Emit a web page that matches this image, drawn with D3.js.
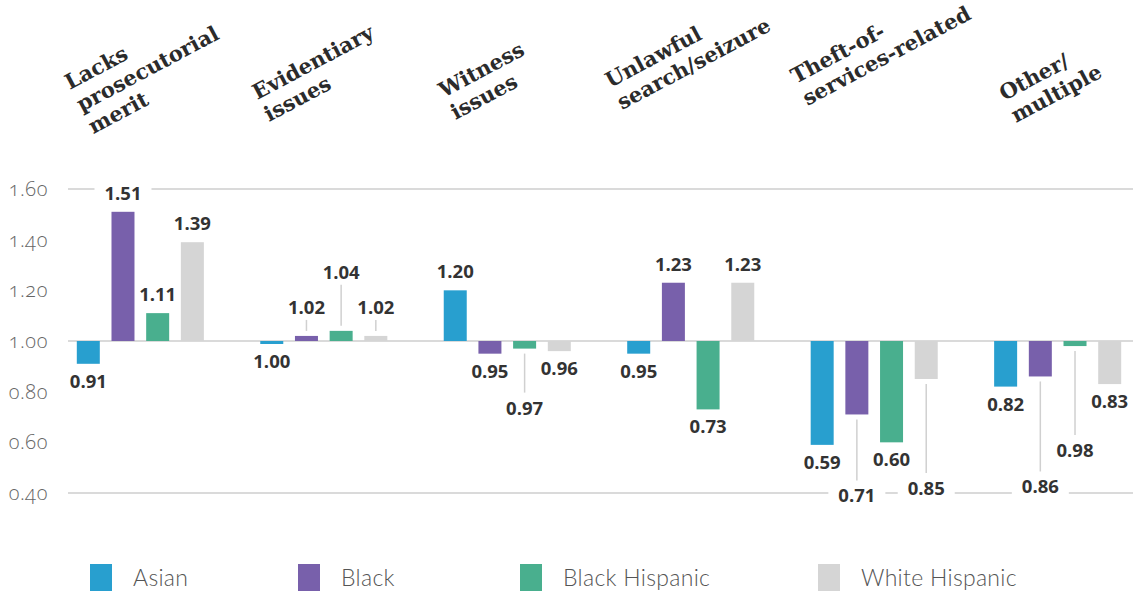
<!DOCTYPE html>
<html>
<head>
<meta charset="utf-8">
<script src="https://cdn.jsdelivr.net/npm/d3@7"></script>
<style>
  html, body { margin: 0; padding: 0; background: #fff; }
  svg { display: block; }
</style>
</head>
<body>
<svg id="chart" width="1133" height="593"></svg>
<script>
// ---- data ----
const categories = ["Lacks prosecutorial merit", "Evidentiary issues", "Witness issues",
                    "Unlawful search/seizure", "Theft-of-services-related", "Other/multiple"];
const headerLines = [["Lacks", "prosecutorial", "merit"], ["Evidentiary", "issues"], ["Witness", "issues"],
                     ["Unlawful", "search/seizure"], ["Theft-of-", "services-related"], ["Other/", "multiple"]];
const series = ["Asian", "Black", "Black Hispanic", "White Hispanic"];
const asian         = [0.91, 1.00, 1.20, 0.95, 0.59, 0.82];
const black         = [1.51, 1.02, 0.95, 1.23, 0.71, 0.86];
const blackHispanic = [1.11, 1.04, 0.97, 0.73, 0.60, 0.98];
const whiteHispanic = [1.39, 1.02, 0.96, 1.23, 0.85, 0.83];
const yTicks = [0.40, 0.60, 0.80, 1.00, 1.20, 1.40, 1.60];
const gridValues = [0.40, 1.00, 1.60];

// ---- layout (not data) ----
const colors = ["#289fcf", "#7860ab", "#49af8e", "#d5d5d5"];
const labelExtra = [[0,0,0,0],[0,10,40,10],[0,0,42,0],[0,0,0,0],[0,64,0,92],[0,93,87,0]];
const headerDX = [-7, -3, 0, -17, -15, 10];
const headerDY = [90, 100, 98, 88, 84, 101];
const legendX = [90, 298, 520, 818];

const seriesValues = [asian, black, blackHispanic, whiteHispanic];
const table = categories.map((c, i) => ({
  cat: c, i,
  vals: series.map((s, k) => ({ s, k, v: seriesValues[k][i], extra: labelExtra[i][k] }))
}));

const svg = d3.select("#chart");
const baseline = 1.0;

const y = d3.scaleLinear().domain([0.4, 1.6]).range([493, 189]);
const x0 = d3.scaleBand().domain(categories).range([68, 1130]).paddingInner(0.3075).paddingOuter(0.048);
const x1 = d3.scaleBand().domain(series).range([0, x0.bandwidth()]).paddingInner(0.337).paddingOuter(0);
const color = d3.scaleOrdinal().domain(series).range(colors);

// gridlines
svg.append("g").selectAll("line").data(gridValues).join("line")
  .attr("x1", 68).attr("x2", 1133)
  .attr("y1", d => y(d)).attr("y2", d => y(d))
  .attr("stroke", "#dadada").attr("stroke-width", 2);

// y axis
const yAxis = d3.axisLeft(y).tickValues(yTicks).tickFormat(d3.format(".2f")).tickSize(0).tickPadding(20);
const ga = svg.append("g").attr("transform", "translate(68,0)").call(yAxis);
ga.select(".domain").remove();
ga.selectAll("text")
  .attr("fill", "#666")
  .style("font-family", "'Open Sans', 'Noto Sans', sans-serif")
  .style("font-weight", "300")
  .style("font-size", "20px")
  .style("font-variant-numeric", "oldstyle-nums")
  .style("font-feature-settings", "'onum' 1")
  .style("letter-spacing", "0.6px");

const groups = svg.append("g").selectAll("g").data(table).join("g")
  .attr("transform", d => `translate(${x0(d.cat)},0)`);

function barTop(v) { return v >= baseline ? y(v) : y(baseline); }
function barBottom(v) {
  if (v === baseline) return y(baseline) + 3;
  return v >= baseline ? y(baseline) : y(v);
}
const fmt = d3.format(".2f");
function labelBase(d) {
  return d.v > baseline ? barTop(d.v) - 12 - d.extra : barBottom(d.v) + 24 + d.extra;
}

// layers: label backgrounds under bars, text on top
const bgLayer = groups.append("g");
const barLayer = groups.append("g");
const leadLayer = groups.append("g");
const textLayer = groups.append("g");

barLayer.selectAll("rect").data(d => d.vals).join("rect")
  .attr("x", d => x1(d.s))
  .attr("width", x1.bandwidth())
  .attr("y", d => barTop(d.v))
  .attr("height", d => barBottom(d.v) - barTop(d.v))
  .attr("fill", d => color(d.s));

leadLayer.selectAll("line").data(d => d.vals.filter(v => v.extra > 0)).join("line")
  .attr("x1", d => x1(d.s) + x1.bandwidth() / 2)
  .attr("x2", d => x1(d.s) + x1.bandwidth() / 2)
  .attr("y1", d => d.v > baseline ? barTop(d.v) - 5 : barBottom(d.v) + 5)
  .attr("y2", d => d.v > baseline ? labelBase(d) + 6 : labelBase(d) - 22)
  .attr("stroke", "#d0d0d0").attr("stroke-width", 1.5);

const labText = textLayer.selectAll("text").data(d => d.vals).join("text")
  .attr("x", d => x1(d.s) + x1.bandwidth() / 2)
  .attr("y", d => labelBase(d))
  .attr("text-anchor", "middle")
  .attr("fill", "#333")
  .style("font-family", "'Open Sans', 'DejaVu Sans', sans-serif")
  .style("font-weight", "700")
  .style("font-size", "18.5px")
  .text(d => fmt(d.v));
labText.each(function() {
  const b = this.getBBox();
  const bg = d3.select(this.parentNode.parentNode).select("g");
  bg.append("rect")
    .attr("x", b.x - 10).attr("y", b.y + 2)
    .attr("width", b.width + 20).attr("height", b.height - 2)
    .attr("fill", "#fff");
});

// category headers
const hdr = svg.append("g").selectAll("g").data(table).join("g")
  .attr("transform", d => `translate(${x0(d.cat) + headerDX[d.i]},${headerDY[d.i]}) rotate(-28)`);
hdr.append("text")
  .attr("fill", "#2b2b2b")
  .style("font-family", "'DejaVu Serif', serif")
  .style("font-weight", "700")
  .style("font-size", "21px")
  .selectAll("tspan").data(d => headerLines[d.i]).join("tspan")
  .attr("x", 0)
  .attr("y", (d, j) => j * 25)
  .text(d => d);

// legend
const leg = svg.append("g").selectAll("g").data(series).join("g")
  .attr("transform", (d, k) => `translate(${legendX[k]},0)`);
leg.append("rect").attr("x", 0).attr("y", 564).attr("width", 22).attr("height", 27).attr("fill", d => color(d));
leg.append("text").attr("x", 43).attr("y", 586)
  .attr("fill", "#555")
  .style("font-family", "'Lato', sans-serif")
  .style("font-weight", "300")
  .style("font-size", "23px")
  .style("letter-spacing", "0.3px")
  .text(d => d);
</script>
</body>
</html>
